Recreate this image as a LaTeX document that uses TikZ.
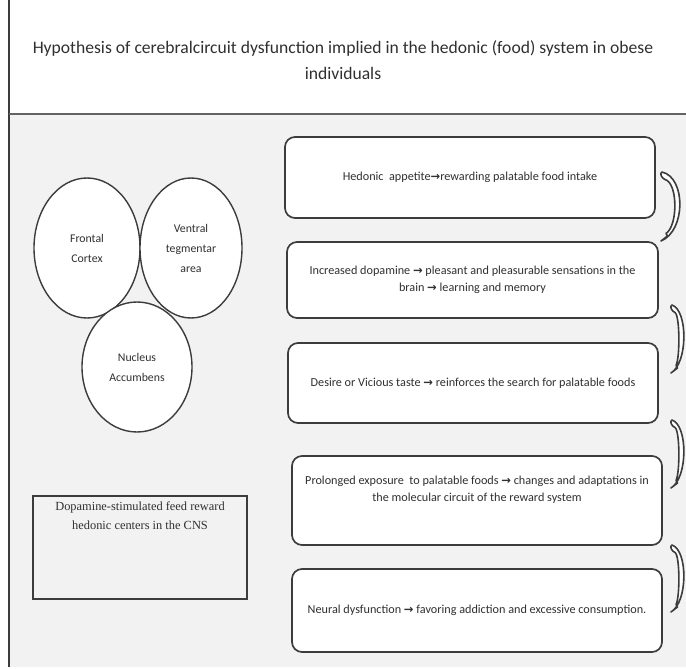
\documentclass[tikz,border=0pt]{standalone}
\usepackage{fontspec}
\setmainfont{Carlito}
\newfontfamily\timesf{Liberation Serif}
\newfontfamily\arrowf{DejaVu Sans}
\usetikzlibrary{calc,shapes.geometric}
\newcommand\rarr{{\arrowf\bfseries\fontsize{11.5}{11.5}\selectfont →}}
\definecolor{bg}{HTML}{F2F2F2}
\definecolor{ln}{HTML}{3C3C3C}
\definecolor{tx}{HTML}{303030}
\newcommand\bendarrow[4]{% x y h c
  \begin{scope}[shift={(#1,#2)}]
    \filldraw[arrowline] (0,0) .. controls (#4,{0.08*#3}) and (#4,{0.85*#3}) .. (-1,#3)
      -- (5.5,{#3-5}) -- (4,{#3-7.5})
      .. controls ({#4-8},{0.78*#3}) and ({#4-8},{0.16*#3}) .. (3,7.5)
      .. controls (0,6.5) and (-3,1) .. cycle;
  \end{scope}}
\tikzset{
  box/.style={draw=ln, line width=1.7pt, fill=white, rounded corners=10pt, text=tx,
    align=center, font=\fontsize{12.2}{17}\selectfont, inner sep=0pt},
  brain/.style={draw=ln, line width=1.4pt, fill=white, ellipse, inner sep=0pt, text=tx,
    align=center, font=\fontsize{11.8}{20}\selectfont},
  arrowline/.style={draw=ln, line width=1.6pt, fill=white, line join=round},
}
\begin{document}
\begin{tikzpicture}[x=1pt,y=-1pt]
  \useasboundingbox (0,0) rectangle (686,669);
  \fill[white] (0,0) rectangle (686,669);
  \fill[bg] (10,115) rectangle (686,667);
  \draw[ln, line width=1.8pt] (9,0) -- (9,667);
  \draw[ln!80, line width=2pt] (9,114) -- (686,114);
  \node[align=center, text=tx, font=\fontsize{17.6}{26}\selectfont] (title) at (343,60)
    {Hypothesis of cerebralcircuit dysfunction implied in the hedonic (food) system in obese\\ individuals};

  \node[brain, minimum width=106, minimum height=140] (fc) at (87,248) {Frontal\\Cortex};
  \node[brain, minimum width=102, minimum height=140] (vta) at (191,248) {Ventral\\tegmentar\\area};
  \node[brain, minimum width=110, minimum height=130] (nac) at (137,367) {Nucleus\\Accumbens};

  \node[draw=ln, line width=1.4pt, minimum width=214, minimum height=103, inner sep=0pt] (tb) at (140,547.5) {};
  \node[anchor=north, align=center, text=tx, inner sep=0pt,
        font=\timesf\fontsize{12.4}{19}\selectfont] (tbtext) at ($(tb.north)+(0,6)$)
    {Dopamine-stimulated feed reward\\hedonic centers in the CNS};

  \node[box, minimum width=370, minimum height=81] (b1) at (470,177.5)
    {Hedonic\ \ appetite\rarr rewarding palatable food intake};
  \node[box, minimum width=371, minimum height=76] (b2) at (472.5,280)
    {Increased dopamine \rarr{} pleasant and pleasurable sensations in the\\brain \rarr{} learning and memory};
  \node[box, minimum width=370, minimum height=80] (b3) at (473,383)
    {Desire or Vicious taste \rarr{} reinforces the search for palatable foods};
  \node[box, minimum width=370, minimum height=89] (b4) at (477,500.5)
    {Prolonged exposure\ \ to palatable foods \rarr{} changes and adaptations in\\the molecular circuit of the reward system\\[6pt]};
  \node[box, minimum width=370, minimum height=83] (b5) at (477,610.5)
    {Neural dysfunction \rarr{} favoring addiction and excessive consumption.};

  \bendarrow{662}{172}{69}{24}
  \bendarrow{672}{305}{68}{16}
  \bendarrow{672}{420}{68}{16}
  \bendarrow{672}{545}{67}{16}
\end{tikzpicture}
\end{document}
